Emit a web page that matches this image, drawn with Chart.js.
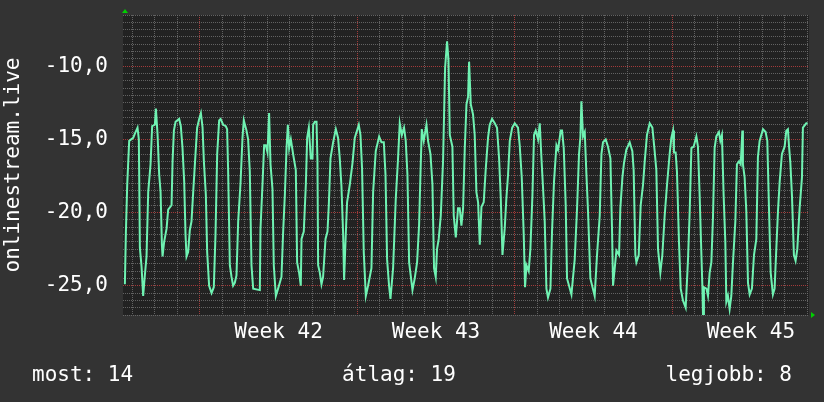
<!DOCTYPE html>
<html>
<head>
<meta charset="utf-8">
<script src="https://cdn.jsdelivr.net/npm/chart.js@4/dist/chart.umd.min.js"></script>
<style>
  html, body { margin: 0; padding: 0; background: #333333; }
  canvas { display: block; }
</style>
</head>
<body>
<canvas id="myChart" width="824" height="402"></canvas>
<script>
//Datos: horas desde el inicio de la semana 42 y el valor medido en cada hora
const hours = [
  -80, -78.9, -77.5, -75.4, -71.1, -69.3, -66.5, -65.1, -64.0, -62.2, -60.5, -58.7, -56.9,
  -55.1, -52.6, -50.9, -48.0, -46.9, -45.1, -43.4, -41.9, -40.5, -39.8, -38.1, -35.5, -33.8, -30.2,
  -29.1, -27.7, -25.9, -22.1, -20.3, -18.5, -16.7, -15.3, -14.2, -12.5, -10.7, -8.9, -7.1, -5.3,
  -2.9, -0.7, 1.1, 2.9, 4.3, 6.4, 7.8, 9.9, 12.5, 14.9, 16.7,
  18.5, 20.6, 22.1, 24.9, 27.7, 29.1, 30.2, 32.0, 33.8, 35.5, 37.3, 39.1, 40.9, 43.4,
  45.5, 46.9, 49.8, 51.5, 53.3, 55.1, 56.9, 64.0, 64.7, 66.9,
  68.6, 70.4, 72.2, 73.9, 75.4, 77.5, 78.9, 81.1, 83.5, 87.1, 88.9, 90.7,
  92.5, 93.9, 95.3, 97.1, 99.5, 102.4, 103.8, 105.9, 107.7, 108.5, 110.9, 113.1,
  114.5, 116.3, 118.4, 120.2, 120.9, 122.7, 124.5, 125.5, 126.2, 128.0, 129.8, 131.5, 134.1, 136.2, 137.6,
  139.4, 142.2, 145.1, 147.5, 149.3, 151.1, 152.9, 153.9, 155.7, 157.1, 160.0, 162.9,
  165.3, 169.6, 171.4, 173.1, 174.9, 177.1, 179.5, 183.1, 184.9, 187.7,
  191.3, 193.8, 196.3, 198.1, 199.8, 201.9, 203.4, 206.2, 209.1, 211.5,
  213.3, 215.5, 217.9, 219.7, 221.5, 223.3, 226.9, 229.3, 231.8, 233.9, 235.4,
  236.8, 238.9, 241.8, 243.5, 246.1, 248.2, 249.9, 251.7, 253.1, 254.9, 257.1, 259.5,
  261.7, 263.8, 265.3, 266.7, 269.5, 270.9, 273.1, 275.5, 277.3, 279.1, 280.9, 282.7,
  284.5, 286.2, 287.3, 289.1, 291.5, 293.3, 295.1, 296.9, 298.7, 300.5, 302.9, 305.1,
  307.5, 309.3, 311.8, 314.7, 317.1, 319.3, 321.1, 322.9, 325.3, 327.1, 328.9,
  330.7, 333.3, 336.0, 339.5, 341.3, 343.5, 345.6, 347.0, 348.5, 350.9, 352.7, 354.9,
  356.6, 358.4, 360.9, 362.7, 364.5, 366.2, 368.0, 369.8, 371.5, 374.1, 375.8, 377.9,
  380.5, 382.2, 385.1, 386.5, 388.3, 390.4, 391.8, 396.5, 400.0, 402.5,
  404.6, 406.1, 407.1, 408.9, 410.7, 412.5, 414.2, 416.7, 421.3, 423.8, 426.7,
  428.5, 430.2, 433.1, 435.5, 438.1, 439.8, 440.9, 442.7, 444.5, 447.3, 448.7, 450.9,
  452.6, 455.1, 458.7, 461.5, 462.9, 464.7, 465.8, 468.3, 470.4, 472.9, 474.7,
  477.1, 480.0, 482.9, 485.3, 487.1, 488.9, 491.4, 493.5, 496.0, 498.5, 501.3,
  503.1, 504.9, 505.9, 507.7, 509.1, 511.3, 513.1, 515.5, 518.4, 520.9, 522.7,
  524.5, 526.9, 529.8, 531.5, 533.3, 535.1, 536.2, 536.9, 537.9, 540.5, 542.2, 544.0, 545.8, 547.5,
  549.3, 551.1, 553.9, 555.4, 557.1, 558.9, 560.7, 561.8, 563.5, 565.3, 567.1, 568.9, 571.4,
  573.1, 575.3, 577.1, 578.9, 579.5, 581.3, 583.1, 584.9, 586.7, 589.1, 591.3, 593.8,
  595.5, 597.3, 600.9, 603.7, 605.5, 607.3, 609.1, 611.5, 613.3, 615.1, 616.9, 618.7,
  621.1, 624.0, 625.8, 627.5, 628.6, 630.1, 631.8, 633.9, 635.7, 637.5, 640.0, 642.5, 643.5, 647.1, 648.5
]
const levels = [
  -24.9, -21.3, -18.1, -15.1, -14.9, -14.6, -14.2, -15.0, -22.4, -23.7, -25.7, -24.3, -23.0,
  -18.6, -16.7, -14.1, -14.0, -12.9, -14.7, -17.4, -18.6, -22.2, -23.0, -22.0, -21.1, -19.8, -19.5,
  -16.5, -14.4, -13.8, -13.6, -14.1, -15.6, -17.9, -21.5, -23.0, -22.7, -21.2, -20.6, -18.6, -16.7,
  -14.2, -13.6, -13.2, -14.2, -16.5, -18.8, -22.7, -25.0, -25.5, -25.1, -21.5,
  -16.0, -13.7, -13.6, -14.0, -14.1, -14.3, -17.2, -23.6, -24.4, -25.0, -24.8, -24.3, -20.6, -18.0,
  -14.9, -13.7, -14.4, -15.0, -17.2, -23.6, -25.2, -25.3, -21.1, -18.0,
  -15.4, -15.4, -15.9, -13.2, -16.7, -18.4, -23.6, -25.7, -25.2, -24.4, -21.3, -18.8,
  -15.6, -14.0, -15.6, -15.0, -16.0, -17.1, -23.4, -24.1, -25.0, -21.8, -21.3, -18.1,
  -14.9, -14.2, -16.3, -16.3, -14.0, -13.8, -13.8, -16.5, -23.6, -24.1, -24.9, -24.4, -21.8, -21.3, -19.5,
  -16.3, -15.2, -14.3, -14.9, -16.3, -18.2, -21.5, -24.6, -21.5, -19.3, -18.1, -16.6,
  -14.9, -14.0, -14.7, -17.0, -22.7, -25.7, -25.0, -23.8, -18.6, -15.8,
  -14.8, -15.2, -15.2, -17.4, -23.2, -25.0, -25.9, -23.8, -19.0, -16.3,
  -13.9, -14.7, -14.2, -15.1, -17.4, -23.4, -25.3, -24.5, -23.4, -20.9, -17.4,
  -14.3, -15.1, -14.0, -15.1, -16.0, -18.1, -23.8, -24.4, -22.5, -21.8, -20.2, -16.5,
  -10.1, -8.3, -9.6, -14.7, -15.5, -20.2, -21.7, -19.7, -19.7, -20.9, -19.7, -15.6,
  -12.6, -12.1, -9.7, -12.6, -13.3, -14.7, -18.6, -19.3, -22.2, -19.6, -19.3, -17.0,
  -14.9, -14.0, -13.6, -13.9, -14.2, -16.3, -19.0, -22.9, -21.1, -19.0, -17.4,
  -15.1, -14.2, -13.9, -14.2, -15.4, -17.6, -21.5, -25.1, -23.6, -24.0, -22.5, -18.8,
  -14.7, -14.4, -15.0, -13.9, -16.3, -18.3, -20.6, -25.2, -25.8, -25.2, -21.3, -17.9,
  -15.4, -15.7, -14.4, -14.4, -15.6, -19.5, -24.5, -25.6, -23.2, -19.7,
  -16.0, -14.8, -12.4, -14.8, -14.5, -17.4, -19.9, -24.5, -25.7, -22.9, -20.2,
  -16.0, -15.2, -15.0, -15.5, -16.3, -21.1, -25.0, -23.8, -22.6, -22.9, -19.7, -17.6,
  -16.6, -15.7, -15.2, -15.8, -17.1, -22.9, -23.4, -22.9, -19.5, -18.1, -16.5,
  -14.7, -13.9, -14.2, -15.8, -17.1, -22.5, -24.1, -22.9, -20.2, -18.1, -16.0,
  -14.9, -14.4, -15.9, -15.9, -17.2, -22.1, -25.2, -26.0, -26.5, -23.2, -19.9,
  -15.6, -15.5, -14.8, -15.5, -18.8, -22.7, -25.0, -27.0, -25.1, -25.2, -25.7, -24.1, -23.4, -20.4,
  -15.6, -14.8, -14.5, -15.1, -14.7, -18.8, -22.0, -26.1, -25.7, -26.6, -25.7, -23.4, -20.6,
  -16.7, -16.5, -16.7, -14.4, -16.7, -17.6, -19.9, -24.8, -25.6, -25.2, -22.9, -21.8,
  -16.2, -15.1, -14.3, -14.5, -15.1, -19.7, -24.1, -25.6, -25.2, -22.5, -19.9, -17.9,
  -16.0, -15.5, -14.4, -14.3, -15.4, -16.6, -18.8, -22.9, -23.3, -22.5, -19.7, -17.6, -14.2, -13.9, -13.9
]
const weekLabels = ['Week 42', 'Week 43', 'Week 44', 'Week 45']
const summaryNames = ['most', 'átlag', 'legjobb']
const summaryValues = [14, 19, 8]
const axisTitle = 'onlinestream.live'

const fontFamily = "'DejaVu Sans Mono', monospace"
const gridGray = 'rgba(115, 115, 115, 0.8)'
const gridRed = 'rgba(170, 60, 60, 0.95)'

//Fondo, flechas de los ejes y la leyenda de abajo
const rrdLook = {
  id: 'rrdLook',
  beforeDraw(chart) {
    const {ctx, chartArea: a} = chart
    ctx.save()
    ctx.fillStyle = '#333333'
    ctx.fillRect(0, 0, chart.width, chart.height)
    ctx.fillStyle = '#222222'
    ctx.fillRect(a.left, a.top, a.right - a.left, a.bottom - a.top)
    ctx.restore()
  },
  afterDraw(chart) {
    const {ctx, chartArea: a} = chart
    ctx.save()
    ctx.fillStyle = '#00d000'
    ctx.beginPath()
    ctx.moveTo(a.left + 2, a.top - 6)
    ctx.lineTo(a.left + 5, a.top - 2)
    ctx.lineTo(a.left - 1, a.top - 2)
    ctx.closePath()
    ctx.fill()
    ctx.beginPath()
    ctx.moveTo(a.right + 6, a.bottom)
    ctx.lineTo(a.right + 2, a.bottom - 3)
    ctx.lineTo(a.right + 2, a.bottom + 3)
    ctx.closePath()
    ctx.fill()

    ctx.fillStyle = '#ffffff'
    ctx.font = '21px ' + fontFamily
    ctx.textBaseline = 'alphabetic'
    const texts = summaryNames.map((n, i) => n + ': ' + summaryValues[i])
    ctx.textAlign = 'left'
    ctx.fillText(texts[0], 32, 381)
    ctx.textAlign = 'center'
    ctx.fillText(texts[1], 399, 381)
    ctx.textAlign = 'right'
    ctx.fillText(texts[2], 792, 381)
    ctx.restore()
  }
}

const ctx = document.getElementById('myChart').getContext('2d')
const myChart = new Chart(ctx, {
  type: 'line',
  data: {
    datasets: [{
      data: hours.map((h, i) => ({x: h, y: levels[i]})),
      borderColor: '#6ff2b2',
      borderWidth: 2,
      pointRadius: 0,
      tension: 0,
      fill: false
    }]
  },
  options: {
    responsive: false,
    devicePixelRatio: 1,
    animation: false,
    events: [],
    layout: { padding: { left: 0, right: 15, top: 15, bottom: 0 } },
    plugins: {
      legend: { display: false },
      tooltip: { enabled: false }
    },
    scales: {
      x: {
        type: 'linear',
        min: -82,
        max: 650,
        afterBuildTicks: scale => {
          const ticks = []
          for (let v = -72; v <= 648; v += 12) ticks.push({value: v})
          scale.ticks = ticks
        },
        afterFit: scale => {
          scale.height = 87
          scale.paddingLeft = 0
          scale.paddingRight = 0
        },
        border: { display: false, dash: [1, 1] },
        grid: {
          drawTicks: false,
          lineWidth: 1,
          color: c => {
            const v = c.tick.value
            if (v % 168 === 0) return gridRed
            if (v % 24 === 0) return gridGray
            return 'rgba(0,0,0,0)'
          }
        },
        ticks: {
          autoSkip: false,
          maxRotation: 0,
          padding: 5,
          color: '#ffffff',
          font: { family: fontFamily, size: 21 },
          callback: value => {
            const k = (value - 84) / 168
            return Number.isInteger(k) && weekLabels[k] ? weekLabels[k] : ''
          }
        }
      },
      y: {
        min: -27,
        max: -6.5,
        afterBuildTicks: scale => {
          const ticks = []
          for (let i = 0; i <= 41; i++) ticks.push({value: -27 + i * 0.5})
          scale.ticks = ticks
        },
        afterFit: scale => {
          scale.width = 123
          scale.paddingTop = 0
          scale.paddingBottom = 0
        },
        border: { display: false, dash: [1, 1] },
        grid: {
          drawTicks: false,
          lineWidth: 1,
          color: c => (c.tick.value % 5 === 0 ? gridRed : gridGray)
        },
        title: {
          display: true,
          text: axisTitle,
          color: '#ffffff',
          font: { family: fontFamily, size: 21 },
          padding: { top: 1, bottom: 0 }
        },
        ticks: {
          autoSkip: false,
          padding: 15,
          color: '#ffffff',
          font: { family: fontFamily, size: 21 },
          callback: value => (value % 5 === 0 ? value.toFixed(1).replace('.', ',') : '')
        }
      }
    }
  },
  plugins: [rrdLook]
})
</script>
</body>
</html>
